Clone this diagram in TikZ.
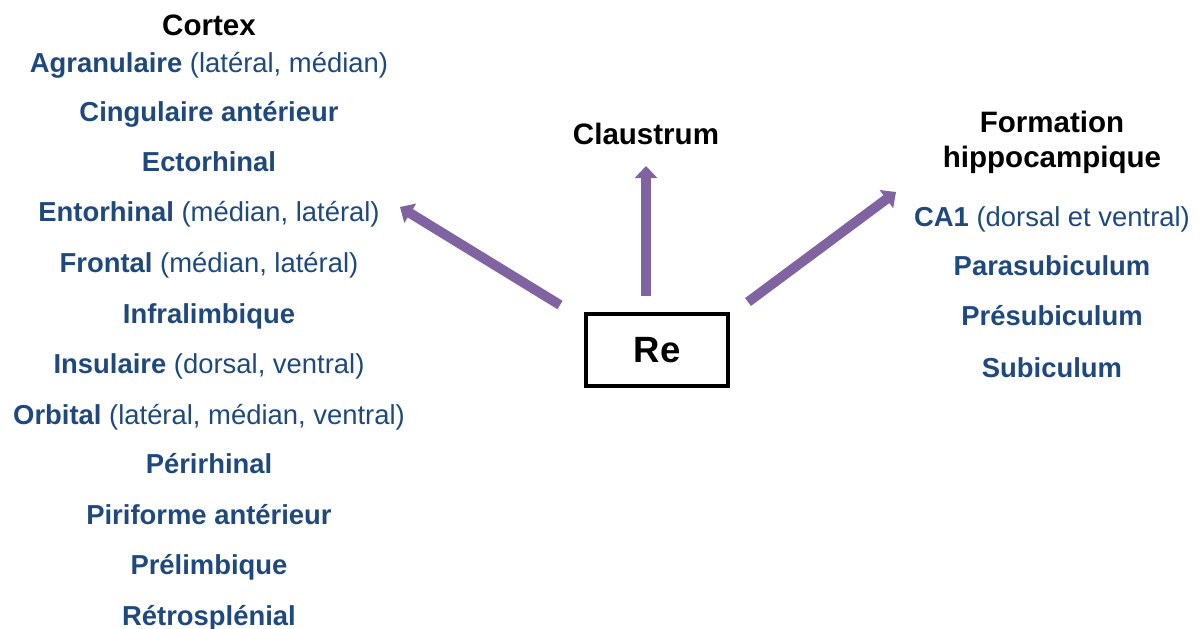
\documentclass[tikz,border=0pt]{standalone}
\usepackage{fontspec}
\setmainfont{Liberation Sans}
\usetikzlibrary{arrows.meta}
\definecolor{regblue}{RGB}{31,73,125}
\definecolor{arrowpurple}{RGB}{128,100,162}
\begin{document}
\begin{tikzpicture}
[
 x=0.025cm,
 y=-0.025cm,
 inner sep=0pt,
 head/.style={anchor=base,font=\fontsize{21}{25}\selectfont\bfseries,align=center},
 region/.style={anchor=base,text=regblue,font=\fontsize{19.5}{23}\selectfont},
 nucleus/.style={draw=black,line width=2.6pt,rectangle,minimum width=3.55cm,minimum height=1.8cm,font=\fontsize{26}{30}\selectfont\bfseries},
 link/.style={draw=arrowpurple,line width=7pt,-{Triangle[length=0.3cm,width=0.55cm]}}
]
\useasboundingbox (0,0) rectangle (1203,629);
% cortex
\node (cortex) [head] at (209,36) {Cortex};
\node (agranulaire) [region] at (209,73) {\textbf{Agranulaire} (latéral, médian)};
\node (cingulaire) [region] at (209,122) {\textbf{Cingulaire antérieur}};
\node (ectorhinal) [region] at (209,172) {\textbf{Ectorhinal}};
\node (entorhinal) [region] at (209,222) {\textbf{Entorhinal} (médian, latéral)};
\node (frontal) [region] at (209,273) {\textbf{Frontal} (médian, latéral)};
\node (infralimbique) [region] at (209,323) {\textbf{Infralimbique}};
\node (insulaire) [region] at (209,373) {\textbf{Insulaire} (dorsal, ventral)};
\node (orbital) [region] at (209,424) {\textbf{Orbital} (latéral, médian, ventral)};
\node (perirhinal) [region] at (209,473) {\textbf{Périrhinal}};
\node (piriforme) [region] at (209,524) {\textbf{Piriforme antérieur}};
\node (prelimbique) [region] at (209,574) {\textbf{Prélimbique}};
\node (retrosplenial) [region] at (209,625) {\textbf{Rétrosplénial}};
% claustrum
\node (claustrum) [head] at (646,145) {Claustrum};
% hippocampe (base = last line)
\node (hippocampe) [head] at (1052,168) {Formation\\hippocampique};
\node (ca1) [region] at (1052,227) {\textbf{CA1} (dorsal et ventral)};
\node (parasubiculum) [region] at (1052,276) {\textbf{Parasubiculum}};
\node (presubiculum) [region] at (1052,326) {\textbf{Présubiculum}};
\node (subiculum) [region] at (1052,377) {\textbf{Subiculum}};
% Re
\node (re) [nucleus] at (657,350) {Re};
\coordinate (re-left) at (560,305);
\coordinate (re-up) at (646,296);
\coordinate (re-right) at (748,302);
\coordinate (to-cortex) at (400,207);
\coordinate (to-claustrum) at (646,166);
\coordinate (to-hippocampe) at (896,192);
\draw[link] (re-left) -- (to-cortex);
\draw[link] (re-up) -- (to-claustrum);
\draw[link] (re-right) -- (to-hippocampe);
\end{tikzpicture}
\end{document}
